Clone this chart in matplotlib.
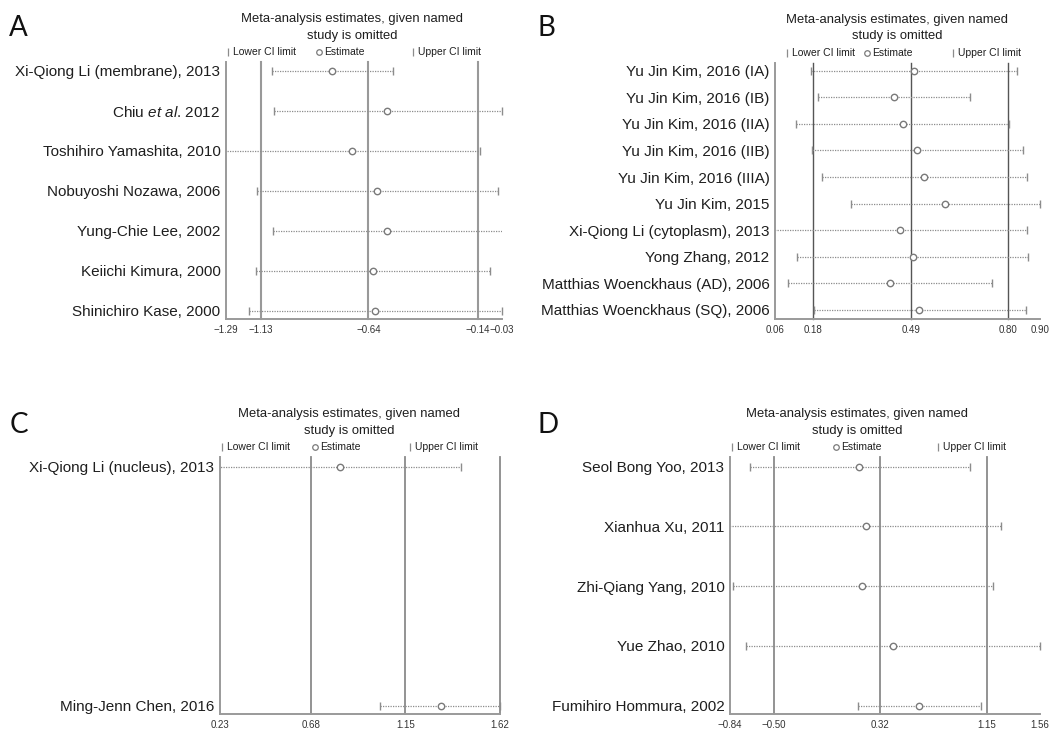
import matplotlib
matplotlib.use("Agg")
import matplotlib.pyplot as plt
from matplotlib.lines import Line2D
import numpy as np

plt.rcParams['font.family'] = ['Liberation Sans', 'DejaVu Sans']
plt.rcParams['mathtext.fontset'] = 'custom'
plt.rcParams['mathtext.rm'] = 'Liberation Sans'
plt.rcParams['mathtext.it'] = 'Liberation Sans:italic'

W, H = 1060, 731

# ---------------- data ----------------
# Panel A
a_studies = ["Xi-Qiong Li (membrane), 2013", "Chiu $\\it{et\\ al}$. 2012",
             "Toshihiro Yamashita, 2010", "Nobuyoshi Nozawa, 2006",
             "Yung-Chie Lee, 2002", "Keiichi Kimura, 2000", "Shinichiro Kase, 2000"]
a_est = [-0.807, -0.553, -0.713, -0.599, -0.553, -0.620, -0.610]
a_low = [-1.079, -1.071, -1.31, -1.147, -1.074, -1.155, -1.185]
a_up = [-0.526, -0.030, -0.130, -0.048, -0.027, -0.085, -0.031]
a_ticks = [-1.29, -1.13, -0.64, -0.14, -0.03]
a_ref = [-1.13, -0.64, -0.14]

# Panel B
b_studies = ["Yu Jin Kim, 2016 (IA)", "Yu Jin Kim, 2016 (IB)", "Yu Jin Kim, 2016 (IIA)",
             "Yu Jin Kim, 2016 (IIB)", "Yu Jin Kim, 2016 (IIIA)", "Yu Jin Kim, 2015",
             "Xi-Qiong Li (cytoplasm), 2013", "Yong Zhang, 2012",
             "Matthias Woenckhaus (AD), 2006", "Matthias Woenckhaus (SQ), 2006"]
b_est = [0.502, 0.438, 0.465, 0.511, 0.533, 0.600, 0.456, 0.496, 0.424, 0.517]
b_low = [0.174, 0.195, 0.127, 0.178, 0.210, 0.300, 0.05, 0.129, 0.100, 0.184]
b_up = [0.826, 0.678, 0.802, 0.845, 0.860, 0.900, 0.858, 0.862, 0.747, 0.856]
b_ticks = [0.06, 0.18, 0.49, 0.80, 0.90]
b_ref = [0.18, 0.49, 0.80]

# Panel C
c_studies = ["Xi-Qiong Li (nucleus), 2013", "Ming-Jenn Chen, 2016"]
c_est = [0.826, 1.326]
c_low = [0.22, 1.023]
c_up = [1.427, 1.620]
c_ticks = [0.23, 0.68, 1.15, 1.62]
c_ref = [0.68, 1.15, 1.62]

# Panel D
d_studies = ["Seol Bong Yoo, 2013", "Xianhua Xu, 2011", "Zhi-Qiang Yang, 2010",
             "Yue Zhao, 2010", "Fumihiro Hommura, 2002"]
d_est = [0.161, 0.210, 0.184, 0.424, 0.623]
d_low = [-0.685, -0.86, -0.819, -0.716, 0.153]
d_up = [1.018, 1.258, 1.193, 1.560, 1.100]
d_ticks = [-0.84, -0.50, 0.32, 1.15, 1.56]
d_ref = [-0.50, 0.32, 1.15]

fig = plt.figure(figsize=(W / 100, H / 100), dpi=100)
fig.patch.set_facecolor("white")

TXT = "#1e1e1e"
MARK = "#7a7a7a"
WHISK = "#8c8c8c"


def fx(px):
    return px / W


def fy(py):
    return 1 - py / H


def forest(x0, x1, ytop, ybot, row0, row1, studies, est, low, up, ticks, refs,
           ref_color, ref_lw, header_cx, legend_x, letter, letter_xy):
    n = len(studies)
    ax = fig.add_axes([fx(x0), fy(ybot), fx(x1 - x0), (ybot - ytop) / H])
    spacing = (row1 - row0) / (n - 1) if n > 1 else 1.0
    ax.set_ylim(n - 1 + (ybot - row1) / spacing, -(row0 - ytop) / spacing)
    ax.set_xlim(ticks[0], ticks[-1])
    rows = np.arange(n)

    for r in refs:
        ax.axvline(r, color=ref_color, lw=ref_lw, zorder=1, clip_on=False)

    ax.hlines(rows, low, up, colors=WHISK, linestyles=(0, (1, 1)), lw=0.9, zorder=2)
    lo = np.array(low)
    hi = np.array(up)
    xmin, xmax = ticks[0], ticks[-1]
    vis_lo = lo >= xmin
    vis_hi = hi <= xmax + 1e-9
    ax.plot(lo[vis_lo], rows[vis_lo], ls="none", marker="|", ms=5.5, mew=1.0,
            color=WHISK, clip_on=False, zorder=3)
    ax.plot(hi[vis_hi], rows[vis_hi], ls="none", marker="|", ms=5.5, mew=1.0,
            color=WHISK, clip_on=False, zorder=3)
    ax.plot(est, rows, ls="none", marker="o", ms=4.6, mfc="white", mec=MARK,
            mew=1.0, zorder=4, clip_on=False)

    for s in ["top", "right"]:
        ax.spines[s].set_visible(False)
    for s in ["left", "bottom"]:
        ax.spines[s].set_color("#9a9a9a")
        ax.spines[s].set_linewidth(1.4)

    ax.set_yticks(rows)
    ax.set_yticklabels(studies, fontsize=11, color=TXT)
    ax.tick_params(axis="y", length=0, pad=4)
    ax.set_xticks(ticks)
    ax.set_xticklabels([f"{t:.2f}".replace("-", "\u2212") for t in ticks],
                       fontsize=7, color="#333333")
    ax.tick_params(axis="x", length=0, pad=4)

    # header above the panel
    fig.text(fx(header_cx), fy(ytop - 43), "Meta-analysis estimates, given named",
             ha="center", va="center", fontsize=9.4, color=TXT)
    fig.text(fx(header_cx), fy(ytop - 26), "study is omitted",
             ha="center", va="center", fontsize=9.4, color=TXT)

    # legend row
    ly = ytop - 10
    lx_low, lx_est, lx_up = legend_x
    fig.add_artist(Line2D([fx(lx_low)], [fy(ly)], marker="|", ms=6, mew=0.9,
                          color=WHISK, transform=fig.transFigure))
    fig.text(fx(lx_low + 5), fy(ly), "Lower CI limit", ha="left", va="center",
             fontsize=7.5, color=TXT)
    fig.add_artist(Line2D([fx(lx_est + 3)], [fy(ly)], marker="o", ms=4, mew=0.9,
                          mfc="white", mec=MARK, transform=fig.transFigure))
    fig.text(fx(lx_est + 8), fy(ly), "Estimate", ha="left", va="center",
             fontsize=7.5, color=TXT)
    fig.add_artist(Line2D([fx(lx_up)], [fy(ly)], marker="|", ms=6, mew=0.9,
                          color=WHISK, transform=fig.transFigure))
    fig.text(fx(lx_up + 5), fy(ly), "Upper CI limit", ha="left", va="center",
             fontsize=7.5, color=TXT)

    fig.text(fx(letter_xy[0]), fy(letter_xy[1]), letter, ha="left", va="center",
             fontsize=20, color="#111111", family=["Lato", "DejaVu Sans"])
    return ax


forest(226, 502, 62, 319, 70.7, 310.7, a_studies, a_est, a_low, a_up, a_ticks, a_ref,
       "#999999", 1.5, 352, (228, 316, 413), "A", (9, 28))
forest(775, 1040, 62.5, 319, 70.7, 310.0, b_studies, b_est, b_low, b_up, b_ticks, b_ref,
       "#555555", 1.0, 897, (787, 864, 953), "B", (537, 28))
forest(220, 500, 457, 714, 466.7, 705.7, c_studies, c_est, c_low, c_up, c_ticks, c_ref,
       "#8a8a8a", 1.3, 349, (222, 312, 410), "C", (10, 425))
forest(730, 1040, 457, 714, 466.7, 705.7, d_studies, d_est, d_low, d_up, d_ticks, d_ref,
       "#8a8a8a", 1.3, 857, (732, 833, 938), "D", (538, 425))

fig.savefig("out.png", dpi=100, facecolor="white")
